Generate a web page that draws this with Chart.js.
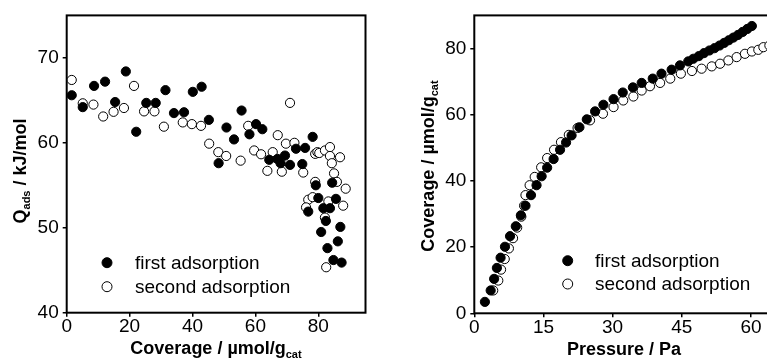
<!DOCTYPE html>
<html>
<head>
<meta charset="utf-8">
<script src="https://cdn.jsdelivr.net/npm/chart.js@4.4.0/dist/chart.umd.min.js"></script>
<style>
    html, body { margin: 0; padding: 0; background: #fff; overflow: hidden; width: 767px; height: 363px; }
    canvas { position: absolute; top: 0; }
    #heatChart { left: 0; }
    #isoChart { left: 383px; }
</style>
</head>
<body>
<canvas id="heatChart" width="383" height="363"></canvas>
<canvas id="isoChart" width="400" height="363"></canvas>
<script>
// Left panel: heat of adsorption vs coverage
const cov1 = [1.6, 5.1, 8.7, 12.2, 15.4, 18.8, 22.1, 25.3, 28.3, 31.4, 34.1, 37.3, 40.1, 42.9, 45.2,
    48.3, 50.8, 53.2, 55.6, 58.1, 60.2, 62.2, 64.4, 67.0, 68.0, 69.4, 71.0, 72.9, 74.9, 75.8,
    78.2, 79.2, 84.4, 80.0, 85.6, 76.8, 81.6, 83.7, 82.4, 80.9, 87.0, 86.2, 82.9, 84.8, 87.4];
const heat1 = [65.6, 64.2, 66.7, 67.2, 64.8, 68.4, 61.3, 64.7, 64.7, 66.2, 63.5, 63.6, 66.0, 66.6, 62.7,
    57.6, 61.8, 60.4, 63.8, 61.0, 62.2, 61.6, 58.0, 58.1, 57.6, 58.5, 57.4, 59.3, 57.5, 59.4,
    60.7, 55.0, 55.3, 53.5, 53.4, 51.9, 52.3, 52.3, 50.8, 49.5, 50.1, 48.4, 47.6, 46.2, 45.9];

const cov2 = [1.6, 5.1, 8.5, 11.6, 14.9, 18.2, 21.4, 24.6, 27.9, 30.9, 36.9, 39.8, 42.7, 45.3, 48.2,
    50.7, 55.3, 57.7, 59.6, 61.8, 63.8, 65.5, 67.1, 68.4, 69.7, 71.0, 72.4, 75.2, 79.0, 79.7,
    80.3, 82.1, 83.7, 83.7, 86.9, 84.3, 85.0, 85.9, 88.7, 79.0, 76.8, 78.2, 76.1, 83.2, 87.9,
    82.1, 82.5];
const heat2 = [67.4, 64.65, 64.5, 63.1, 63.65, 64.1, 66.7, 63.7, 63.7, 61.9, 62.4, 62.2, 62.0, 59.9, 58.9,
    58.45, 57.9, 62.0, 59.1, 58.65, 56.7, 58.9, 60.9, 56.6, 59.9, 64.7, 60.0, 56.5, 58.7, 58.9,
    58.8, 59.1, 59.5, 58.45, 58.3, 57.6, 56.4, 55.4, 54.6, 55.4, 53.3, 53.6, 52.4, 53.1, 52.6,
    51.2, 45.35];

// Right panel: isotherms
const pres1 = [2.3, 3.55, 4.3, 4.9, 5.7, 6.65, 7.75, 9.0, 10.1, 11.1, 12.3, 13.5, 14.6, 15.8, 17.2,
    18.6, 19.9, 21.1, 22.8, 24.4, 26.2, 28.0, 30.2, 32.2, 34.4, 36.3, 38.7, 40.6, 42.8, 44.6,
    46.4, 47.5, 48.7, 49.8, 51.0, 52.1, 53.2, 54.2, 55.2, 56.2, 57.2, 58.2, 59.2, 60.2];
const uptake1 = [3.45, 6.9, 10.4, 13.7, 16.8, 20.1, 23.3, 26.3, 29.6, 32.5, 35.7, 38.7, 41.4, 44.0, 46.6,
    49.4, 51.6, 53.75, 56.2, 58.6, 61.0, 63.0, 64.7, 66.7, 68.25, 69.6, 70.9, 72.4, 73.6, 74.9,
    76.1, 76.9, 77.7, 78.6, 79.4, 80.1, 80.9, 81.7, 82.5, 83.3, 84.1, 85.0, 85.9, 86.8];

const pres2 = [4.1, 5.2, 5.8, 6.6, 7.5, 8.4, 9.3, 10.2, 10.8, 11.1, 12.0, 13.1, 14.5, 15.8, 17.3,
    18.8, 20.5, 22.4, 25.1, 27.9, 30.2, 32.3, 34.5, 36.3, 38.1, 40.3, 42.5, 44.8, 47.2, 49.3,
    51.5, 53.3, 55.1, 56.9, 58.7, 60.2, 61.6, 62.7, 64.0];
const uptake2 = [6.9, 9.9, 13.2, 16.4, 19.6, 22.7, 25.9, 29.2, 32.5, 35.7, 38.7, 41.2, 44.1, 46.9, 49.4,
    51.7, 53.9, 56.0, 58.3, 60.3, 62.3, 64.3, 65.5, 67.3, 68.6, 69.6, 70.9, 72.4, 73.2, 73.9,
    74.6, 75.4, 76.4, 77.4, 78.4, 79.1, 79.6, 80.4, 80.9];

const heatXTicks = [0, 20, 40, 60, 80];
const heatYTicks = [40, 50, 60, 70];
const isoXTicks = [0, 15, 30, 45, 60];
const isoYTicks = [0, 20, 40, 60, 80];
const seriesNames = ['first adsorption', 'second adsorption'];

const FONT = "'Liberation Sans', Arial, sans-serif";
Chart.defaults.font.family = FONT;
Chart.defaults.color = '#000';

function toPoints(xs, ys) {
    return xs.map((x, i) => ({ x: x, y: ys[i] }));
}

function drawTitle(ctx, parts, x, y, rotated) {
    ctx.save();
    ctx.translate(x, y);
    if (rotated) ctx.rotate(-Math.PI / 2);
    ctx.fillStyle = '#000';
    ctx.textBaseline = 'alphabetic';
    ctx.textAlign = 'left';
    let total = 0;
    parts.forEach(p => {
        ctx.font = p.sub ? 'bold 11px ' + FONT : 'bold 18px ' + FONT;
        total += ctx.measureText(p.t).width;
    });
    let cx = -total / 2;
    parts.forEach(p => {
        ctx.font = p.sub ? 'bold 11px ' + FONT : 'bold 18px ' + FONT;
        ctx.fillText(p.t, cx, p.sub ? 4 : 0);
        cx += ctx.measureText(p.t).width;
    });
    ctx.restore();
}

// frame, axis titles and legend for one panel
function panelPlugin(cfg) {
    return {
        id: 'panel',
        beforeDatasetsDraw(chart) {
            const a = chart.chartArea;
            const ctx = chart.ctx;
            ctx.save();
            ctx.strokeStyle = '#000';
            ctx.lineWidth = 2;
            ctx.strokeRect(a.left, a.top, a.right - a.left, a.bottom - a.top);
            ctx.restore();
        },
        afterDraw(chart) {
            const ctx = chart.ctx;
            drawTitle(ctx, cfg.xTitle, cfg.xTitlePos[0], cfg.xTitlePos[1], false);
            drawTitle(ctx, cfg.yTitle, cfg.yTitlePos[0], cfg.yTitlePos[1], true);
            ctx.save();
            chart.data.datasets.forEach((ds, i) => {
                const my = cfg.legend.y[i];
                ctx.beginPath();
                ctx.arc(cfg.legend.x, my, 5, 0, Math.PI * 2);
                ctx.fillStyle = ds.backgroundColor;
                ctx.fill();
                ctx.lineWidth = 1;
                ctx.strokeStyle = '#000';
                ctx.stroke();
                ctx.fillStyle = '#000';
                ctx.font = '19px ' + FONT;
                ctx.textBaseline = 'middle';
                ctx.textAlign = 'left';
                ctx.fillText(seriesNames[i], cfg.legend.textX, my + 1);
            });
            ctx.restore();
        }
    };
}

function makeScale(min, max, ticks, size, isX) {
    return {
        type: 'linear',
        min: min,
        max: max,
        afterBuildTicks: s => { s.ticks = ticks.map(v => ({ value: v })); },
        afterFit: s => { if (isX) s.height = size; else s.width = size; },
        grid: { drawOnChartArea: false, drawTicks: true, tickLength: 4, color: '#000', lineWidth: 1.5 },
        border: { display: false },
        ticks: { font: { size: 19 }, color: '#000', padding: isX ? -1 : 4, maxRotation: 0 }
    };
}

function makeChart(id, d1, d2, scales, padding, cfg) {
    const ctx = document.getElementById(id).getContext('2d');
    return new Chart(ctx, {
        type: 'scatter',
        data: {
            datasets: [{
                label: seriesNames[0],
                data: d1,
                backgroundColor: '#000',
                borderColor: '#000',
                borderWidth: 1,
                pointRadius: 4.6,
                pointHoverRadius: 4.6
            }, {
                label: seriesNames[1],
                data: d2,
                backgroundColor: '#fff',
                borderColor: '#000',
                borderWidth: 1,
                pointRadius: 4.6,
                pointHoverRadius: 4.6
            }]
        },
        options: {
            responsive: false,
            animation: false,
            devicePixelRatio: 1,
            layout: { padding: padding },
            scales: scales,
            plugins: { legend: { display: false }, tooltip: { enabled: false } }
        },
        plugins: [panelPlugin(cfg)]
    });
}

makeChart('heatChart',
    toPoints(cov1, heat1), toPoints(cov2, heat2),
    { x: makeScale(0, 95, heatXTicks, 50.3, true), y: makeScale(40, 75, heatYTicks, 66.7, false) },
    { top: 11.7, right: 17.5, left: 0, bottom: 0 },
    {
        xTitle: [{ t: 'Coverage / \u00b5mol/g' }, { t: 'cat', sub: true }],
        xTitlePos: [216, 354],
        yTitle: [{ t: 'Q' }, { t: 'ads', sub: true }, { t: ' / kJ/mol' }],
        yTitlePos: [26, 171],
        legend: { x: 107, y: [262.7, 286.7], textX: 135 }
    });

makeChart('isoChart',
    toPoints(pres1, uptake1), toPoints(pres2, uptake2),
    { x: makeScale(0, 65, isoXTicks, 49.7, true), y: makeScale(0, 90, isoYTicks, 91.3, false) },
    { top: 11.2, right: 9, left: 0, bottom: 0 },
    {
        xTitle: [{ t: 'Pressure / Pa' }],
        xTitlePos: [241, 355],
        yTitle: [{ t: 'Coverage / \u00b5mol/g' }, { t: 'cat', sub: true }],
        yTitlePos: [51, 166],
        legend: { x: 184.7, y: [260.7, 284], textX: 212 }
    });
</script>
</body>
</html>
